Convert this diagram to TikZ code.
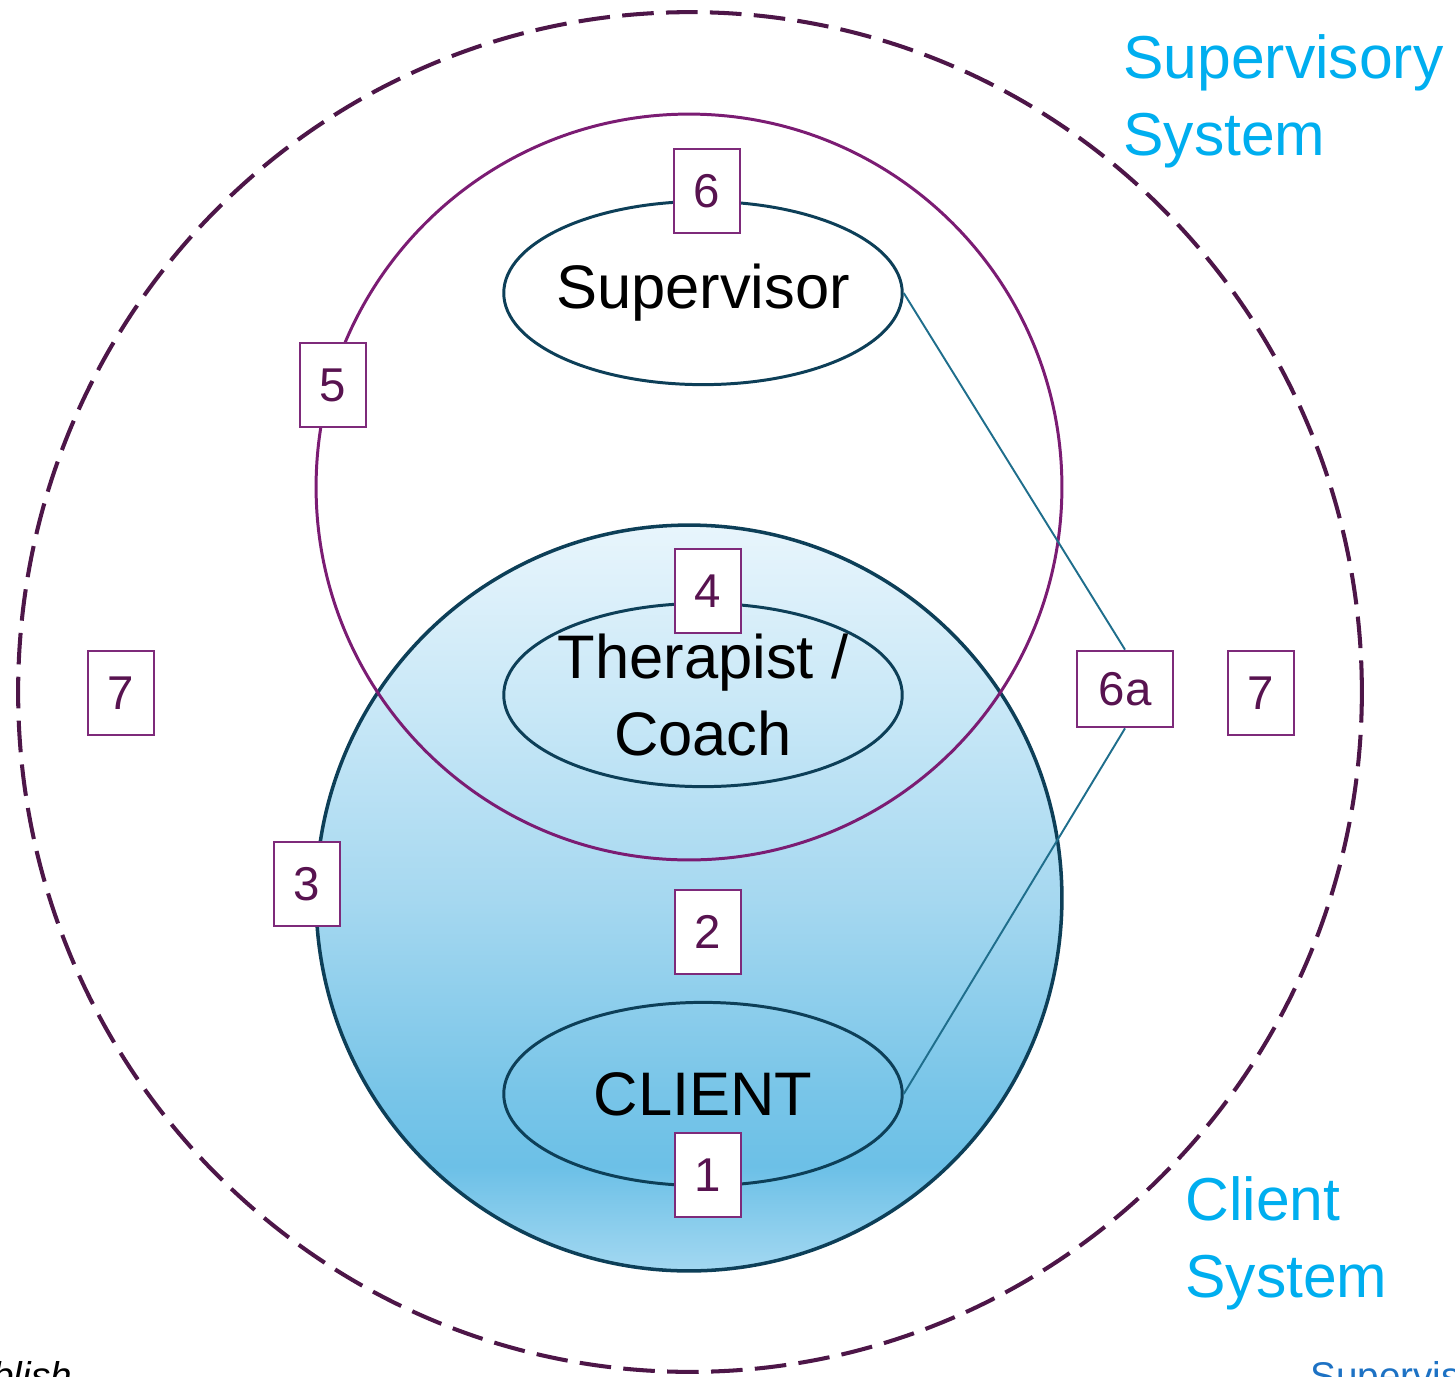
\documentclass[tikz,border=0pt]{standalone}
\usepackage{fontspec}
\setmainfont{Liberation Sans}
\usetikzlibrary{shapes.geometric}

\definecolor{ringPurple}{HTML}{7B1C73}
\definecolor{dashPurple}{HTML}{4D1648}
\definecolor{boxPurple}{HTML}{7E2A7A}
\definecolor{numPurple}{HTML}{581350}
\definecolor{clientEdge}{HTML}{0D3F58}
\definecolor{linkTeal}{HTML}{1F6E8C}
\definecolor{sysBlue}{HTML}{00AEEF}
\definecolor{footBlue}{HTML}{1D72C4}
\definecolor{cgA}{HTML}{A3D8F1}
\definecolor{cgB}{HTML}{6CC0E7}
\definecolor{cgC}{HTML}{78C5E8}
\definecolor{cgD}{HTML}{A6D8F0}
\definecolor{cgE}{HTML}{C9E8F7}
\definecolor{cgF}{HTML}{E8F5FC}

\pgfdeclareverticalshading{clientgrad}{100bp}{color(0bp)=(cgA); color(25bp)=(cgA);
  color(32bp)=(cgB); color(37bp)=(cgC); color(50bp)=(cgD); color(63bp)=(cgE);
  color(75bp)=(cgF); color(100bp)=(cgF)}

\begin{document}
\begin{tikzpicture}[x=0.02cm, y=-0.02cm,
	numbox/.style={draw=boxPurple, line width=1.1pt, fill=white, text=numPurple,
		font=\fontsize{27}{32}\selectfont, minimum width=38pt, minimum height=47.6pt, inner sep=0pt},
	role/.style={ellipse, draw=clientEdge, line width=1.7pt, minimum width=226.8pt,
		minimum height=104.3pt, inner xsep=-6pt, inner ysep=-4pt, align=center,
		font=\fontsize{35}{44}\selectfont},
	syslabel/.style={anchor=north west, inner sep=0pt, align=left, text=sysBlue,
		font=\fontsize{34.5}{44}\selectfont}]
	\useasboundingbox (0,0) rectangle (1455,1377);

	% systems
	\draw[dashPurple, line width=2.3pt, dash pattern=on 18pt off 7pt] (690,692) ellipse [x radius=13.44cm, y radius=13.6cm];
	\shade[shading=clientgrad] (689,898) circle [radius=7.46cm];
	\draw[clientEdge, line width=2pt] (689,898) circle [radius=7.46cm];
	\draw[ringPurple, line width=1.7pt] (689,487) circle [radius=7.46cm];

	% people
	\node[role, fill=white] (sup) at (703,293) {Supervisor};
	\node[role] (ther) at (703,695) {Therapist /\\Coach};
	\node[role] (cli) at (703,1094) {CLIENT};

	\node[numbox] (n6) at (707,191) {6};
	\node[numbox] (n5) at (333,385) {5};
	\node[numbox] (n4) at (708,591) {4};
	\node[numbox] (n7l) at (121,693) {7};
	\node[numbox, minimum width=55pt, minimum height=43.7pt] (n6a) at (1125,689) {6a};
	\node[numbox] (n7r) at (1261,693) {7};
	\node[numbox] (n3) at (307,884) {3};
	\node[numbox] (n2) at (708,932) {2};
	\node[numbox] (n1) at (708,1175) {1};

	\draw[linkTeal, line width=1.1pt] (sup.east) -- (n6a.north);
	\draw[linkTeal, line width=1.1pt] (cli.east) -- (n6a.south);

	\node[syslabel] (supsys) at (1123,34) {Supervisory\\System};
	\node[syslabel] (clisys) at (1185,1176) {Client\\System};

	%\node at (0,1389) {...};
	\node[anchor=base west, inner sep=0pt, font=\fontsize{22}{26}\selectfont\itshape] (footl) at (-8,1389) {blish};
	\node[anchor=base west, inner sep=0pt, text=footBlue, font=\fontsize{22}{26}\selectfont] (footr) at (1310,1389) {Supervision};
\end{tikzpicture}
\end{document}
